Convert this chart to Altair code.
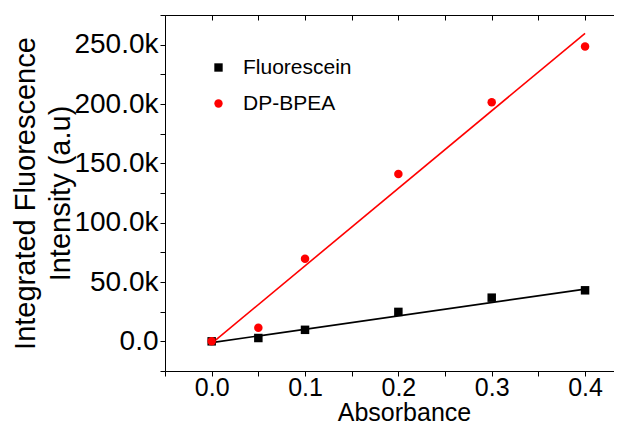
import altair as alt
import pandas as pd

# ---- data ----
series = ["Fluorescein", "DP-BPEA"]
colors = ["#000000", "#ff0000"]
shapes = ["square", "circle"]

absorbance = [0.0, 0.05, 0.1, 0.2, 0.3, 0.4]
fluorescein = [0, 2800, 9700, 24800, 36800, 43000]
dpbpea = [0, 11400, 69500, 141000, 201500, 248400]

fit_x = [0.0, 0.4]
fit_fluorescein = [-1100, 44000]
fit_dpbpea = [-1700, 259600]

x_ticks = [-0.05, 0.0, 0.05, 0.1, 0.15, 0.2, 0.25, 0.3, 0.35, 0.4]
y_ticks = [-25000, 0, 25000, 50000, 75000, 100000, 125000, 150000,
           175000, 200000, 225000, 250000, 275000]

x_dom = [-0.05, 0.431]
y_dom = [-25000, 275000]

pts = pd.DataFrame({
    "absorbance": absorbance * 2,
    "value": fluorescein + dpbpea,
    "series": [series[0]] * len(absorbance) + [series[1]] * len(absorbance),
})
fit_f = pd.DataFrame({"absorbance": fit_x, "value": fit_fluorescein})
fit_d = pd.DataFrame({"absorbance": fit_x, "value": fit_dpbpea})

FONT = "Liberation Sans"
xs = alt.Scale(domain=x_dom, nice=False, zero=False)
ys = alt.Scale(domain=y_dom, nice=False, zero=False)

x_main = alt.Axis(
    orient="bottom", values=x_ticks,
    labelExpr="round(datum.value*20) % 2 == 0 ? format(datum.value, '.1f') : ''",
    tickSize=5, labelPadding=-1, labelFontSize=25, labelFont=FONT,
    title="Absorbance", titleFontSize=25, titleFont=FONT, titleFontWeight="normal",
    titleX=239, titleY=49, titleBaseline="alphabetic", titleAnchor="start",
    titleAlign="center",
)
y_main = alt.Axis(
    orient="left", values=y_ticks,
    labelExpr="datum.value % 50000 == 0 ? (datum.value == 0 ? '0.0' : format(datum.value/1000, '.1f') + 'k') : ''",
    tickSize=5, labelPadding=2, labelFontSize=28, labelFont=FONT,
    title=["Integrated Fluorescence", "Intensity (a.u)"],
    titleFontSize=29, titleFont=FONT, titleFontWeight="normal",
    titleLineHeight=35, titleX=-131, titleY=178, titleAngle=-90,
    titleBaseline="alphabetic", titleAlign="center",
)
x_top_domain = alt.Axis(orient="top", domain=True, ticks=False, labels=False, title=None)
x_top_ticks = alt.Axis(orient="top", values=x_ticks, domain=False, ticks=True,
                       tickSize=5, offset=-5, labels=False, title=None)

line_f = alt.Chart(fit_f).mark_line(color="#000000", strokeWidth=1.6).encode(
    x=alt.X("absorbance:Q", scale=xs, axis=x_main),
    y=alt.Y("value:Q", scale=ys, axis=y_main),
)
line_d = alt.Chart(fit_d).mark_line(color="#ff0000", strokeWidth=1.6).encode(
    x=alt.X("absorbance:Q", scale=xs, axis=x_top_ticks),
    y=alt.Y("value:Q", scale=ys, axis=None),
)
points = alt.Chart(pts).mark_point(filled=True, opacity=1, size=72).encode(
    x=alt.X("absorbance:Q", scale=xs, axis=x_top_domain),
    y=alt.Y("value:Q", scale=ys, axis=None),
    color=alt.Color("series:N", scale=alt.Scale(domain=series, range=colors), title=None),
    shape=alt.Shape("series:N", scale=alt.Scale(domain=series, range=shapes), title=None),
)

chart = (
    alt.layer(line_f, line_d, points)
    .resolve_axis(x="independent", y="independent")
    .properties(
        width=449, height=356,
        autosize="none",
        padding={"left": 157, "top": 7, "right": 0, "bottom": 53},
    )
    .configure_view(stroke=None)
    .configure_axis(
        grid=False, domainColor="#000000", tickColor="#000000",
        labelColor="#000000", titleColor="#000000", domainWidth=1, tickWidth=1,
    )
    .configure_legend(
        orient="none", legendX=43, legendY=42, padding=0,
        labelFont=FONT, labelFontSize=21, labelColor="#000000",
        symbolSize=70, labelOffset=14, rowPadding=14, symbolStrokeWidth=0,
    )
)

chart.save("out.html", embed_options={"renderer": "svg", "actions": False})
